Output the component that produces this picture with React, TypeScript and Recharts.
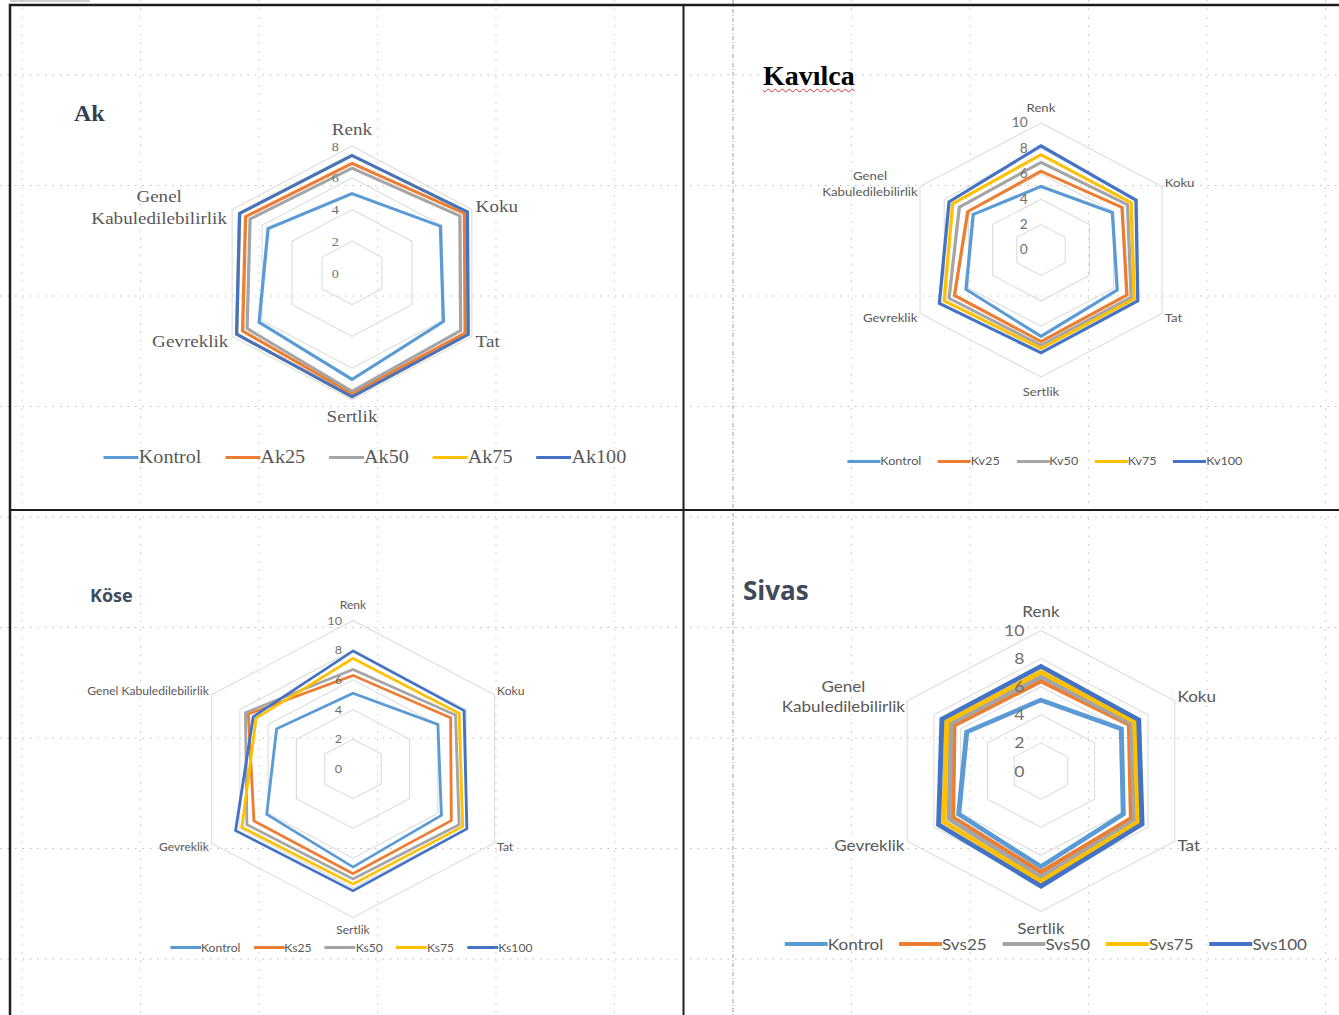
import React from 'react';
import { RadarChart, Radar, PolarGrid, PolarAngleAxis, PolarRadiusAxis, Legend } from 'recharts';

const categories = ['Renk', 'Koku', 'Tat', 'Sertlik', 'Gevreklik', 'Genel Kabuledilebilirlik'];
const seriesColors = ['#5B9BD5', '#ED7D31', '#A5A5A5', '#FFC000', '#4472C4'];

// Ak
const akNames = ['Kontrol', 'Ak25', 'Ak50', 'Ak75', 'Ak100'];
const akKontrol = [5.0, 5.9, 6.1, 6.7, 6.2, 5.6];
const akAk25 = [6.9, 7.5, 7.55, 7.6, 7.3, 7.1];
const akAk50 = [6.6, 7.2, 7.25, 7.45, 7.0, 6.8];
const akAk75 = [7.4, 7.7, 7.75, 7.8, 7.7, 7.5];
const akAk100 = [7.4, 7.7, 7.75, 7.8, 7.7, 7.5];

// Kavılca
const kvNames = ['Kontrol', 'Kv25', 'Kv50', 'Kv75', 'Kv100'];
const kvKontrol = [5.0, 5.9, 6.3, 6.8, 6.2, 5.6];
const kvKv25 = [6.2, 6.7, 7.1, 7.2, 7.15, 6.05];
const kvKv50 = [6.9, 7.15, 7.45, 7.5, 7.6, 6.75];
const kvKv75 = [7.5, 7.45, 7.7, 7.75, 8.0, 7.3];
const kvKv100 = [8.2, 7.85, 8.0, 8.1, 8.4, 7.6];

// Köse
const ksNames = ['Kontrol', 'Ks25', 'Ks50', 'Ks75', 'Ks100'];
const ksKontrol = [5.1, 6.0, 6.25, 6.6, 6.1, 5.4];
const ksKs25 = [6.3, 6.9, 6.95, 7.05, 7.0, 7.4];
const ksKs50 = [6.7, 7.25, 7.5, 7.4, 7.5, 7.6];
const ksKs75 = [7.45, 7.5, 7.75, 7.75, 7.85, 6.85];
const ksKs100 = [7.95, 7.85, 8.05, 8.2, 8.3, 7.05];

// Sivas
const svNames = ['Kontrol', 'Svs25', 'Svs50', 'Svs75', 'Svs100'];
const svKontrol = [5.05, 6.0, 6.15, 6.8, 6.15, 5.55];
const svSvs25 = [6.4, 6.6, 6.75, 7.2, 6.6, 6.5];
const svSvs50 = [6.7, 6.75, 7.0, 7.55, 6.85, 6.75];
const svSvs75 = [7.05, 7.0, 7.25, 7.85, 7.25, 7.05];
const svSvs100 = [7.45, 7.3, 7.55, 8.2, 7.65, 7.4];

const W = 560;
const H = 440;
const CXL = 280;
const CYL = 200;

const SERIF = '"Liberation Serif", "Times New Roman", serif';
const SANS = 'Lato, "Open Sans", sans-serif';

const panels = [
  {
    id: 'ak', names: akNames, values: [akKontrol, akAk25, akAk50, akAk75, akAk100], max: 8,
    pageCx: 352, pageCy: 273, R: 127, s: 1.09, font: SERIF, catSize: 17.5, tickSize: 13, tickDx: 12,
    strokeW: 3, topDy: -3, bottomDy: 14, sideDx: -3.5, genelTwoLine: true, genelOffset: -60, genelDy1: -3.5, genelDy2: 18.5,
    legendSize: 18.5, legendLineW: 32, legendLineH: 3, legendGap: 22, legendTop: 373, legendShift: 24, legendLH: 22,
  },
  {
    id: 'kv', names: kvNames, values: [kvKontrol, kvKv25, kvKv50, kvKv75, kvKv100], max: 10,
    pageCx: 1041, pageCy: 250, R: 127, s: 1.1, font: SANS, catSize: 12, tickSize: 12.5, tickDx: 12,
    strokeW: 3, topDy: -3, bottomDy: 11, sideDx: -4.5, genelTwoLine: true, genelOffset: -38.5, genelDy1: -2.5, genelDy2: 13.5,
    legendSize: 11.5, legendLineW: 30, legendLineH: 3, legendGap: 15, legendTop: 403, legendShift: 7, legendLH: 16,
  },
  {
    id: 'ks', names: ksNames, values: [ksKontrol, ksKs25, ksKs50, ksKs75, ksKs100], max: 10,
    pageCx: 353, pageCy: 768.5, R: 148.5, s: 1.1, font: SANS, catSize: 11, tickSize: 11.5, tickDx: 10,
    strokeW: 2.6, topDy: -3, bottomDy: 9, sideDx: -4.5, genelTwoLine: false, genelOffset: 0, genelDy1: 0, genelDy2: 0,
    legendSize: 11, legendLineW: 28, legendLineH: 3, legendGap: 12, legendTop: 371, legendShift: -3, legendLH: 15,
  },
  {
    id: 'sv', names: svNames, values: [svKontrol, svSvs25, svSvs50, svSvs75, svSvs100], max: 10,
    pageCx: 1041, pageCy: 771, R: 140.5, s: 1.1, font: SANS, catSize: 15.5, tickSize: 16, tickDx: 15,
    strokeW: 4.5, topDy: -5.5, bottomDy: 14.5, sideDx: -4.5, genelTwoLine: true, genelOffset: -51, genelDy1: -5, genelDy2: 15,
    legendSize: 15.5, legendLineW: 39, legendLineH: 4.5, legendGap: 14.5, legendTop: 363, legendShift: 9, legendLH: 20,
  },
];

function Panel({ cfg }: { cfg: any }) {
  const data = categories.map((c, i) => {
    const row: any = { attr: c };
    cfg.names.forEach((n: string, j: number) => {
      row[n] = cfg.values[j][i];
    });
    return row;
  });

  const common = { fontFamily: cfg.font, fontSize: cfg.catSize, fill: '#595959' };

  const angleTick = (props: any) => {
    const { x, y, payload } = props;
    const dx = x - CXL;
    const label = payload.value;
    if (Math.abs(dx) < 1) {
      const top = y < CYL;
      return (
        <text x={x} y={y + (top ? cfg.topDy : cfg.bottomDy)} textAnchor="middle" {...common}>
          {label}
        </text>
      );
    }
    const right = dx > 0;
    if (label === 'Genel Kabuledilebilirlik' && cfg.genelTwoLine) {
      const gx = x + cfg.genelOffset;
      return (
        <text textAnchor="middle" {...common}>
          <tspan x={gx} y={y + cfg.genelDy1}>Genel</tspan>
          <tspan x={gx} y={y + cfg.genelDy2}>Kabuledilebilirlik</tspan>
        </text>
      );
    }
    const tx = right ? x + cfg.sideDx : x - cfg.sideDx;
    return (
      <text x={tx} y={y} dy="0.35em" textAnchor={right ? 'start' : 'end'} {...common}>
        {label}
      </text>
    );
  };

  const radiusTick = (props: any) => {
    const { x, y, payload } = props;
    return (
      <text x={x - cfg.tickDx} y={y} dy="0.35em" textAnchor="end" fontFamily={cfg.font} fontSize={cfg.tickSize} fill="#6f6f6f">
        {payload.value}
      </text>
    );
  };

  const legendContent = (props: any) => {
    const payload = [...(props.payload || [])].sort(
      (a: any, b: any) => cfg.names.indexOf(a.value) - cfg.names.indexOf(b.value)
    );
    return (
      <div
        style={{
          display: 'flex',
          justifyContent: 'center',
          alignItems: 'center',
          paddingLeft: cfg.legendShift > 0 ? cfg.legendShift : 0,
          paddingRight: cfg.legendShift < 0 ? -cfg.legendShift : 0,
          fontFamily: cfg.font,
          fontSize: cfg.legendSize,
          lineHeight: `${cfg.legendLH}px`,
          color: '#595959',
          whiteSpace: 'nowrap',
        }}
      >
        {payload.map((p: any, i: number) => (
          <div key={p.value} style={{ display: 'flex', alignItems: 'center', marginLeft: i === 0 ? 0 : cfg.legendGap }}>
            <span style={{ display: 'inline-block', width: cfg.legendLineW, height: cfg.legendLineH, background: p.color }} />
            <span>{p.value}</span>
          </div>
        ))}
      </div>
    );
  };

  return (
    <div
      style={{
        position: 'absolute',
        left: cfg.pageCx - CXL,
        top: cfg.pageCy - CYL,
        width: W,
        height: H,
        transform: `scaleX(${cfg.s})`,
        transformOrigin: `${CXL}px ${CYL}px`,
      }}
    >
      <RadarChart
        width={W}
        height={H}
        data={data}
        cx={CXL}
        cy={CYL}
        outerRadius={cfg.R}
        margin={{ top: 0, right: 0, bottom: 0, left: 0 }}
      >
        <PolarGrid gridType="polygon" radialLines={false} stroke="#dcdcdc" strokeWidth={1} />
        <PolarAngleAxis dataKey="attr" tick={angleTick} tickLine={false} axisLine={false} />
        <PolarRadiusAxis
          angle={90}
          type="number"
          domain={[0, cfg.max]}
          tickCount={cfg.max / 2 + 1}
          axisLine={false}
          tickLine={false}
          tick={radiusTick}
        />
        {cfg.names.map((n: string, j: number) => (
          <Radar
            key={n}
            dataKey={n}
            name={n}
            stroke={seriesColors[j]}
            strokeWidth={cfg.strokeW}
            fill="none"
            fillOpacity={0}
            dot={false}
            isAnimationActive={false}
          />
        ))}
        <Legend
          content={legendContent}
          wrapperStyle={{ left: 0, top: cfg.legendTop, width: W, bottom: 'auto', height: 'auto' }}
        />
      </RadarChart>
    </div>
  );
}

const gridXs = [22, 140.5, 259, 377.5, 496, 614.5, 851.5, 970, 1088.5, 1207, 1325.5];
const gridYs = [75, 185.5, 296, 406.5, 517, 627.5, 738, 848.5, 959];

export default function App() {
  return (
    <div style={{ position: 'absolute', left: 0, top: 0, width: 1339, height: 1015, background: '#ffffff', overflow: 'hidden' }}>
      <svg width={1339} height={1015} style={{ position: 'absolute', left: 0, top: 0 }}>
        {gridYs.map((y) => (
          <line key={'h' + y} x1={0} x2={1339} y1={y} y2={y} stroke="#bdbdbd" strokeWidth={1} strokeDasharray="1.5 6" />
        ))}
        {gridXs.map((x) => (
          <line key={'v' + x} x1={x} x2={x} y1={0} y2={1015} stroke="#c4c4c4" strokeWidth={1} strokeDasharray="1.5 7" />
        ))}
        <line x1={733} x2={733} y1={0} y2={1015} stroke="#9a9a9a" strokeWidth={1} strokeDasharray="4 2 1 2" />
        <line x1={10} x2={90} y1={1} y2={1} stroke="#a0a0a0" strokeWidth={1} />
        <line x1={9} x2={1339} y1={5} y2={5} stroke="#1e1e1e" strokeWidth={2.5} />
        <line x1={10} x2={10} y1={4} y2={1015} stroke="#1e1e1e" strokeWidth={2.5} />
        <line x1={683.5} x2={683.5} y1={4} y2={1015} stroke="#1e1e1e" strokeWidth={2} />
        <line x1={9} x2={1339} y1={510} y2={510} stroke="#1e1e1e" strokeWidth={2} />
        <text x={74} y={121} fontFamily={SERIF} fontWeight="bold" fontSize={24} fill="#333f50">Ak</text>
        <text x={90} y={602} fontFamily='"Open Sans", sans-serif' fontWeight="bold" fontSize={18} fill="#3e4c5e">Köse</text>
        <text x={743} y={600} fontFamily='"Open Sans", sans-serif' fontWeight="bold" fontSize={26} fill="#3f4a5a">Sivas</text>
      </svg>
      <div
        style={{
          position: 'absolute',
          left: 763,
          top: 62,
          fontFamily: SERIF,
          fontWeight: 'bold',
          fontSize: 28,
          lineHeight: '28px',
          color: '#000',
          textDecoration: 'underline wavy #e03030',
          textDecorationThickness: '1px',
          textUnderlineOffset: '3px',
          whiteSpace: 'nowrap',
        }}
      >
        Kavılca
      </div>
      {panels.map((p) => (
        <Panel key={p.id} cfg={p} />
      ))}
    </div>
  );
}
